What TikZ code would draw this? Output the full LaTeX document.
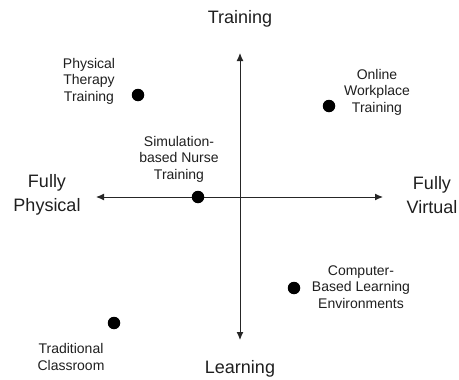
\documentclass[tikz,border=0pt]{standalone}
\usepackage{fontspec}
\setmainfont{Liberation Sans}
\usetikzlibrary{arrows.meta}
\begin{document}
\begin{tikzpicture}[x=1pt,y=-1pt,
  axis/.style={draw=black!85, line width=1pt, {Latex[length=8pt,width=7pt]}-{Latex[length=8pt,width=7pt]}},
  dot/.style={circle, fill=black, inner sep=0pt, minimum size=12.5pt},
  biglabel/.style={align=center, inner sep=0pt, text=black!88, font=\fontsize{18}{24}\selectfont},
  smalllabel/.style={align=center, inner sep=0pt, text=black!88, font=\fontsize{14}{16.5}\selectfont}]
\useasboundingbox (0,0) rectangle (459,380);
% axes
\coordinate (top) at (240,53);
\coordinate (bottom) at (240,340);
\coordinate (left) at (96,197);
\coordinate (right) at (383,197);
\draw[axis] (bottom) -- (top);
\draw[axis] (left) -- (right);
% axis labels
\node[biglabel] (training) at (240,19) {Training};
\node[biglabel] (learning) at (240,369) {Learning};
\node[biglabel] (physical) at (47,195) {Fully\\Physical};
\node[biglabel] (virtual) at (432,195) {Fully\\Virtual};
% dots
\node[dot] (ptdot) at (138,95) {};
\node[dot] (simdot) at (198,197) {};
\node[dot] (onldot) at (329,106) {};
\node[dot] (cbdot) at (294,288) {};
\node[dot] (tradot) at (114,323) {};
% labels
\node[smalllabel] (pt) at (89,81) {Physical\\Therapy\\Training};
\node[smalllabel] (sim) at (179,159) {Simulation-\\based Nurse\\Training};
\node[smalllabel] (onl) at (377,92) {Online\\Workplace\\Training};
\node[smalllabel] (cb) at (361,287) {Computer-\\Based Learning\\Environments};
\node[smalllabel] (tra) at (71,357) {Traditional\\Classroom};
\end{tikzpicture}
\end{document}
